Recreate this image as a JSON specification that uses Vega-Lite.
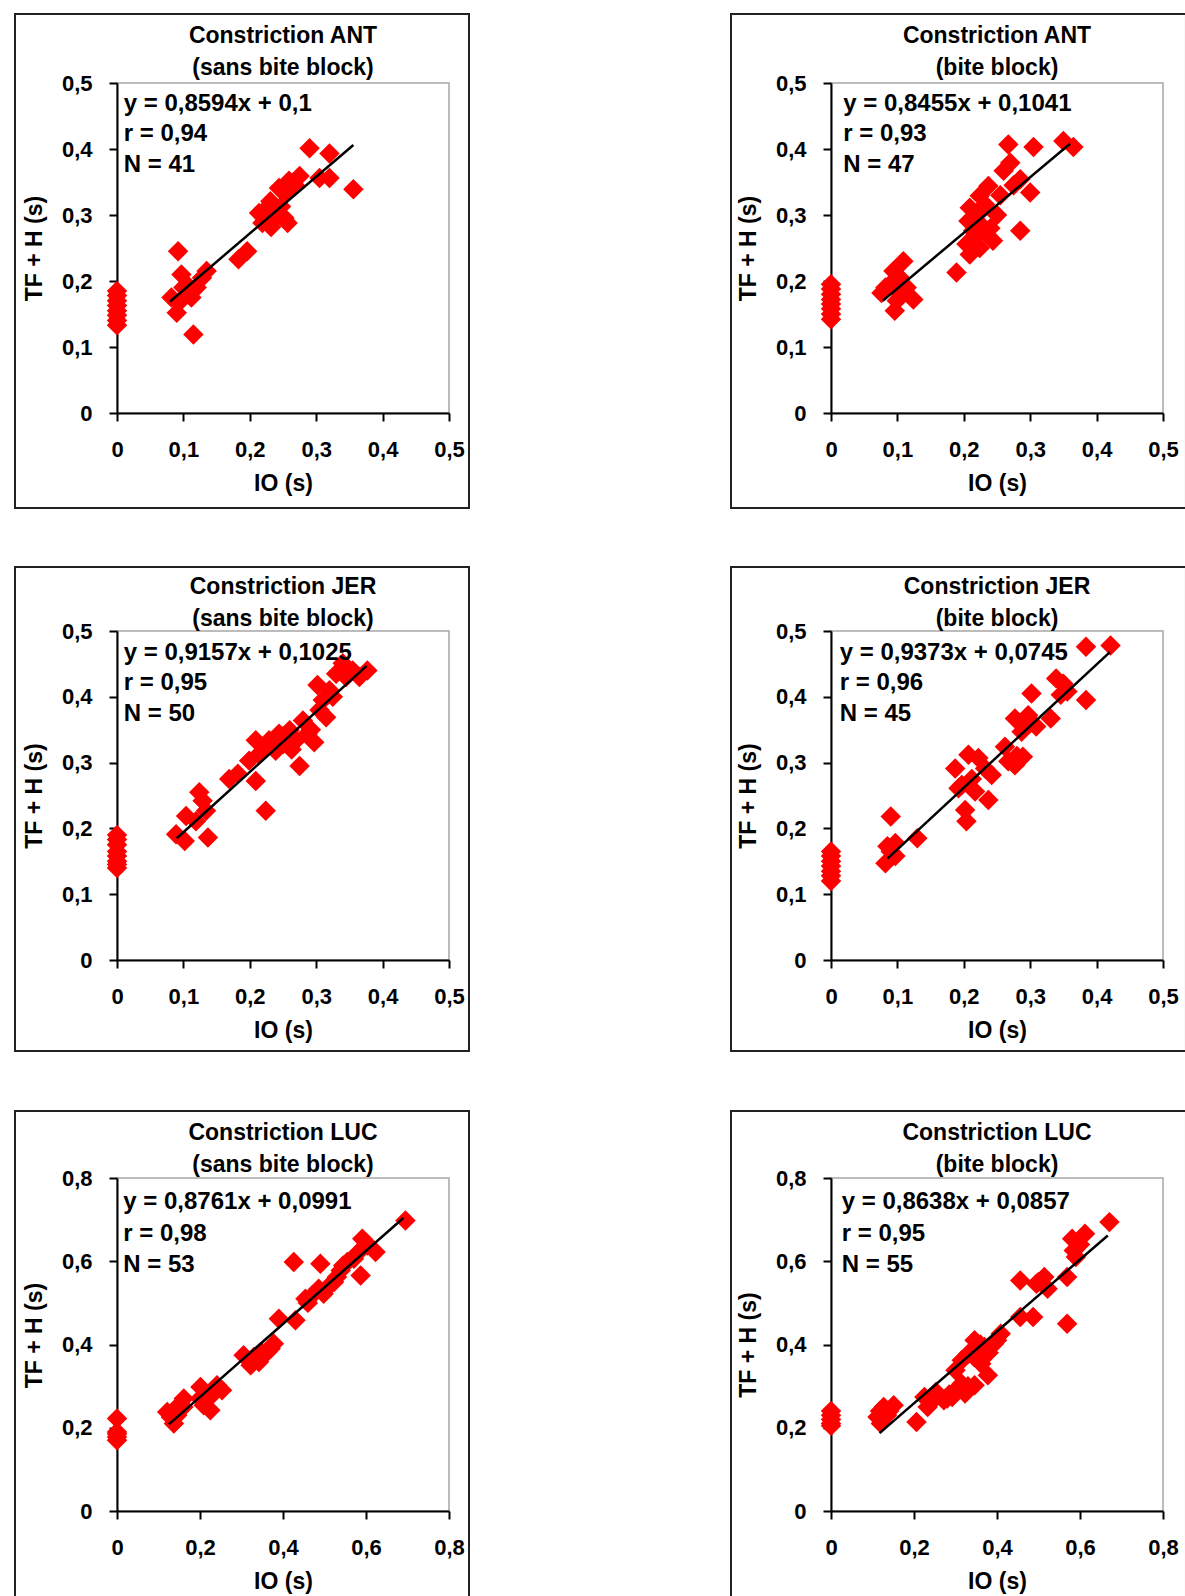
{
  "$schema": "https://vega.github.io/schema/vega-lite/v6.json",
  "padding": {"left": 12, "top": 12, "right": 0, "bottom": 0},
  "background": "white",
  "config": {
    "font": "Liberation Sans",
    "view": {"stroke": "#a6a6a6", "strokeWidth": 1.5},
    "axis": {"grid": false, "domainColor": "#000", "domainWidth": 2, "tickColor": "#000", "tickWidth": 2, "tickSize": 8, "labelFont": "Liberation Sans", "labelFontSize": 22, "labelFontWeight": "bold", "labelColor": "#000", "titleFont": "Liberation Sans", "titleFontSize": 23, "titleFontWeight": "bold", "titleColor": "#000", "labelOverlap": false, "labelFlush": false},
    "axisX": {"labelPadding": 18, "titlePadding": 12},
    "axisY": {"labelPadding": 17, "titlePadding": 15},
    "title": {"font": "Liberation Sans", "fontSize": 23, "fontWeight": "bold", "color": "#000", "anchor": "middle", "frame": "group", "lineHeight": 32}
  },
  "datasets": {
    "ant_sbb": [
      {"io":0,"tf":0.185},{"io":0,"tf":0.178},{"io":0,"tf":0.17},{"io":0,"tf":0.163},{"io":0,"tf":0.155},{"io":0,"tf":0.148},{"io":0,"tf":0.14},{"io":0,"tf":0.133},
      {"io":0.092,"tf":0.245},{"io":0.097,"tf":0.21},{"io":0.082,"tf":0.175},{"io":0.09,"tf":0.152},{"io":0.112,"tf":0.175},{"io":0.115,"tf":0.119},{"io":0.128,"tf":0.205},{"io":0.135,"tf":0.215},{"io":0.105,"tf":0.195},{"io":0.1,"tf":0.19},{"io":0.12,"tf":0.19},{"io":0.183,"tf":0.233},{"io":0.196,"tf":0.245},{"io":0.219,"tf":0.288},{"io":0.214,"tf":0.303},{"io":0.231,"tf":0.321},{"io":0.239,"tf":0.296},{"io":0.252,"tf":0.296},{"io":0.257,"tf":0.288},{"io":0.244,"tf":0.341},{"io":0.259,"tf":0.352},{"io":0.275,"tf":0.359},{"io":0.29,"tf":0.401},{"io":0.305,"tf":0.356},{"io":0.32,"tf":0.356},{"io":0.356,"tf":0.339},{"io":0.247,"tf":0.313},{"io":0.225,"tf":0.31},{"io":0.32,"tf":0.393},{"io":0.268,"tf":0.345},{"io":0.232,"tf":0.282},{"io":0.253,"tf":0.333},{"io":0.094,"tf":0.168}
    ],
    "ant_sbb_fit": [{"io":0.08,"tf":0.169},{"io":0.356,"tf":0.406}],
    "ant_bb": [
      {"io":0,"tf":0.195},{"io":0,"tf":0.188},{"io":0,"tf":0.18},{"io":0,"tf":0.172},{"io":0,"tf":0.165},{"io":0,"tf":0.158},{"io":0,"tf":0.15},{"io":0,"tf":0.142},
      {"io":0.267,"tf":0.407},{"io":0.305,"tf":0.403},{"io":0.35,"tf":0.412},{"io":0.365,"tf":0.403},{"io":0.27,"tf":0.379},{"io":0.26,"tf":0.367},{"io":0.285,"tf":0.354},{"io":0.3,"tf":0.334},{"io":0.237,"tf":0.344},{"io":0.224,"tf":0.329},{"io":0.209,"tf":0.311},{"io":0.207,"tf":0.291},{"io":0.232,"tf":0.316},{"io":0.214,"tf":0.276},{"io":0.234,"tf":0.271},{"io":0.244,"tf":0.261},{"io":0.204,"tf":0.256},{"io":0.224,"tf":0.25},{"io":0.209,"tf":0.24},{"io":0.285,"tf":0.276},{"io":0.189,"tf":0.213},{"io":0.109,"tf":0.23},{"io":0.094,"tf":0.215},{"io":0.076,"tf":0.182},{"io":0.089,"tf":0.195},{"io":0.099,"tf":0.17},{"io":0.096,"tf":0.155},{"io":0.124,"tf":0.172},{"io":0.114,"tf":0.19},{"io":0.104,"tf":0.205},{"io":0.25,"tf":0.3},{"io":0.228,"tf":0.283},{"io":0.215,"tf":0.265},{"io":0.255,"tf":0.33},{"io":0.275,"tf":0.345},{"io":0.082,"tf":0.19},{"io":0.105,"tf":0.18},{"io":0.24,"tf":0.28},{"io":0.22,"tf":0.3}
    ],
    "ant_bb_fit": [{"io":0.078,"tf":0.17},{"io":0.36,"tf":0.408}],
    "jer_sbb": [
      {"io":0,"tf":0.19},{"io":0,"tf":0.183},{"io":0,"tf":0.175},{"io":0,"tf":0.165},{"io":0,"tf":0.158},{"io":0,"tf":0.15},{"io":0,"tf":0.145},{"io":0,"tf":0.14},
      {"io":0.089,"tf":0.191},{"io":0.102,"tf":0.181},{"io":0.104,"tf":0.219},{"io":0.119,"tf":0.211},{"io":0.124,"tf":0.255},{"io":0.129,"tf":0.242},{"io":0.134,"tf":0.227},{"io":0.137,"tf":0.186},{"io":0.169,"tf":0.275},{"io":0.182,"tf":0.283},{"io":0.209,"tf":0.272},{"io":0.224,"tf":0.227},{"io":0.209,"tf":0.334},{"io":0.214,"tf":0.313},{"io":0.224,"tf":0.323},{"io":0.229,"tf":0.334},{"io":0.244,"tf":0.344},{"io":0.25,"tf":0.328},{"io":0.26,"tf":0.349},{"io":0.27,"tf":0.334},{"io":0.275,"tf":0.295},{"io":0.28,"tf":0.364},{"io":0.297,"tf":0.331},{"io":0.287,"tf":0.344},{"io":0.302,"tf":0.418},{"io":0.31,"tf":0.395},{"io":0.315,"tf":0.369},{"io":0.325,"tf":0.4},{"io":0.33,"tf":0.435},{"io":0.34,"tf":0.451},{"io":0.355,"tf":0.44},{"io":0.377,"tf":0.44},{"io":0.365,"tf":0.43},{"io":0.239,"tf":0.318},{"io":0.199,"tf":0.303},{"io":0.25,"tf":0.34},{"io":0.263,"tf":0.32},{"io":0.292,"tf":0.35},{"io":0.305,"tf":0.38},{"io":0.32,"tf":0.41},{"io":0.345,"tf":0.43},{"io":0.235,"tf":0.325}
    ],
    "jer_sbb_fit": [{"io":0.09,"tf":0.185},{"io":0.376,"tf":0.447}],
    "jer_bb": [
      {"io":0,"tf":0.165},{"io":0,"tf":0.158},{"io":0,"tf":0.15},{"io":0,"tf":0.143},{"io":0,"tf":0.135},{"io":0,"tf":0.128},{"io":0,"tf":0.12},
      {"io":0.082,"tf":0.147},{"io":0.085,"tf":0.173},{"io":0.097,"tf":0.158},{"io":0.097,"tf":0.178},{"io":0.09,"tf":0.218},{"io":0.13,"tf":0.185},{"io":0.187,"tf":0.291},{"io":0.192,"tf":0.261},{"io":0.202,"tf":0.228},{"io":0.204,"tf":0.211},{"io":0.207,"tf":0.312},{"io":0.217,"tf":0.256},{"io":0.222,"tf":0.307},{"io":0.232,"tf":0.291},{"io":0.237,"tf":0.243},{"io":0.242,"tf":0.281},{"io":0.262,"tf":0.324},{"io":0.267,"tf":0.302},{"io":0.277,"tf":0.296},{"io":0.277,"tf":0.367},{"io":0.289,"tf":0.309},{"io":0.287,"tf":0.347},{"io":0.297,"tf":0.372},{"io":0.302,"tf":0.405},{"io":0.309,"tf":0.355},{"io":0.331,"tf":0.367},{"io":0.339,"tf":0.428},{"io":0.346,"tf":0.403},{"io":0.356,"tf":0.408},{"io":0.384,"tf":0.476},{"io":0.384,"tf":0.395},{"io":0.421,"tf":0.478},{"io":0.197,"tf":0.266},{"io":0.212,"tf":0.275},{"io":0.28,"tf":0.31},{"io":0.3,"tf":0.36},{"io":0.35,"tf":0.42},{"io":0.09,"tf":0.165}
    ],
    "jer_bb_fit": [{"io":0.085,"tf":0.154},{"io":0.42,"tf":0.468}],
    "luc_sbb": [
      {"io":0,"tf":0.222},{"io":0,"tf":0.19},{"io":0,"tf":0.185},{"io":0,"tf":0.178},{"io":0,"tf":0.17},
      {"io":0.121,"tf":0.238},{"io":0.137,"tf":0.21},{"io":0.145,"tf":0.23},{"io":0.161,"tf":0.27},{"io":0.153,"tf":0.254},{"io":0.201,"tf":0.298},{"io":0.209,"tf":0.254},{"io":0.225,"tf":0.242},{"io":0.241,"tf":0.302},{"io":0.253,"tf":0.29},{"io":0.217,"tf":0.27},{"io":0.305,"tf":0.374},{"io":0.322,"tf":0.35},{"io":0.342,"tf":0.358},{"io":0.362,"tf":0.382},{"io":0.378,"tf":0.402},{"io":0.39,"tf":0.462},{"io":0.426,"tf":0.598},{"io":0.43,"tf":0.458},{"io":0.454,"tf":0.51},{"io":0.47,"tf":0.518},{"io":0.486,"tf":0.534},{"io":0.49,"tf":0.594},{"io":0.498,"tf":0.522},{"io":0.523,"tf":0.55},{"io":0.539,"tf":0.578},{"io":0.555,"tf":0.598},{"io":0.571,"tf":0.606},{"io":0.587,"tf":0.566},{"io":0.591,"tf":0.654},{"io":0.603,"tf":0.638},{"io":0.623,"tf":0.622},{"io":0.695,"tf":0.698},{"io":0.53,"tf":0.562},{"io":0.13,"tf":0.225},{"io":0.16,"tf":0.25},{"io":0.2,"tf":0.27},{"io":0.23,"tf":0.28},{"io":0.33,"tf":0.37},{"io":0.35,"tf":0.38},{"io":0.37,"tf":0.39},{"io":0.46,"tf":0.5},{"io":0.51,"tf":0.54},{"io":0.545,"tf":0.59},{"io":0.58,"tf":0.62},{"io":0.6,"tf":0.645},{"io":0.14,"tf":0.245},{"io":0.32,"tf":0.36}
    ],
    "luc_sbb_fit": [{"io":0.125,"tf":0.208},{"io":0.69,"tf":0.704}],
    "luc_bb": [
      {"io":0,"tf":0.24},{"io":0,"tf":0.23},{"io":0,"tf":0.22},{"io":0,"tf":0.21},{"io":0,"tf":0.205},
      {"io":0.112,"tf":0.226},{"io":0.127,"tf":0.25},{"io":0.12,"tf":0.21},{"io":0.151,"tf":0.254},{"io":0.135,"tf":0.23},{"io":0.206,"tf":0.214},{"io":0.225,"tf":0.274},{"io":0.233,"tf":0.25},{"io":0.253,"tf":0.286},{"io":0.272,"tf":0.266},{"io":0.292,"tf":0.274},{"io":0.315,"tf":0.306},{"io":0.323,"tf":0.282},{"io":0.346,"tf":0.302},{"io":0.315,"tf":0.362},{"io":0.346,"tf":0.41},{"io":0.37,"tf":0.394},{"io":0.362,"tf":0.354},{"io":0.378,"tf":0.326},{"io":0.393,"tf":0.402},{"io":0.409,"tf":0.426},{"io":0.456,"tf":0.554},{"io":0.456,"tf":0.466},{"io":0.487,"tf":0.466},{"io":0.495,"tf":0.546},{"io":0.514,"tf":0.562},{"io":0.522,"tf":0.534},{"io":0.569,"tf":0.562},{"io":0.569,"tf":0.45},{"io":0.581,"tf":0.654},{"io":0.585,"tf":0.626},{"io":0.612,"tf":0.666},{"io":0.671,"tf":0.694},{"io":0.3,"tf":0.338},{"io":0.331,"tf":0.378},{"io":0.118,"tf":0.24},{"io":0.14,"tf":0.24},{"io":0.24,"tf":0.26},{"io":0.28,"tf":0.27},{"io":0.3,"tf":0.29},{"io":0.33,"tf":0.3},{"io":0.35,"tf":0.39},{"io":0.38,"tf":0.38},{"io":0.4,"tf":0.41},{"io":0.5,"tf":0.55},{"io":0.59,"tf":0.61},{"io":0.6,"tf":0.64},{"io":0.36,"tf":0.4},{"io":0.285,"tf":0.28},{"io":0.345,"tf":0.37}
    ],
    "luc_bb_fit": [{"io":0.117,"tf":0.187},{"io":0.667,"tf":0.662}]
  },
  "columns": 2,
  "bounds": "flush",
  "align": "each",
  "spacing": {"row": 218, "column": 382},
  "concat": [
    {
      "width": 332, "height": 330,
      "title": {"text": ["Constriction ANT", "(sans bite block)"], "offset": -67, "lineHeight": 32.5},
      "layer": [
        {"data": {"name": "ant_sbb"}, "mark": {"type": "point", "shape": "diamond", "filled": true, "color": "#ff0000", "opacity": 1, "size": 420},
         "encoding": {
           "x": {"field": "io", "type": "quantitative", "scale": {"domain": [0, 0.5], "nice": false, "zero": false}, "axis": {"title": "IO (s)", "values": [0, 0.1, 0.2, 0.3, 0.4, 0.5], "labelExpr": "replace(format(datum.value, '~g'), '.', ',')"}},
           "y": {"field": "tf", "type": "quantitative", "scale": {"domain": [0, 0.5], "nice": false, "zero": false}, "axis": {"title": "TF + H (s)", "values": [0, 0.1, 0.2, 0.3, 0.4, 0.5], "labelExpr": "replace(format(datum.value, '~g'), '.', ',')"}}}},
        {"data": {"values": [{}]}, "mark": {"type": "rect", "filled": false, "color": "#222", "strokeWidth": 2},
         "encoding": {"x": {"datum": -0.1536, "type": "quantitative"}, "x2": {"datum": 0.5301}, "y": {"datum": 0.6045, "type": "quantitative"}, "y2": {"datum": -0.1439}}},
        {"data": {"name": "ant_sbb_fit"}, "mark": {"type": "line", "color": "#000", "strokeWidth": 2.5},
         "encoding": {"x": {"field": "io", "type": "quantitative"}, "y": {"field": "tf", "type": "quantitative"}}},
        {"data": {"values": [{"label": "y = 0,8594x + 0,1\nr = 0,94\nN = 41"}]}, "mark": {"type": "text", "align": "left", "baseline": "top", "lineBreak": "\n", "lineHeight": 30.5, "fontSize": 24, "fontWeight": "bold", "color": "#000"},
         "encoding": {"x": {"datum": 0.0101, "type": "quantitative"}, "y": {"datum": 0.4865, "type": "quantitative"}, "text": {"field": "label"}}}
      ]
    },
    {
      "width": 332, "height": 330,
      "title": {"text": ["Constriction ANT", "(bite block)"], "offset": -67, "lineHeight": 32.5},
      "layer": [
        {"data": {"name": "ant_bb"}, "mark": {"type": "point", "shape": "diamond", "filled": true, "color": "#ff0000", "opacity": 1, "size": 420},
         "encoding": {
           "x": {"field": "io", "type": "quantitative", "scale": {"domain": [0, 0.5], "nice": false, "zero": false}, "axis": {"title": "IO (s)", "values": [0, 0.1, 0.2, 0.3, 0.4, 0.5], "labelExpr": "replace(format(datum.value, '~g'), '.', ',')"}},
           "y": {"field": "tf", "type": "quantitative", "scale": {"domain": [0, 0.5], "nice": false, "zero": false}, "axis": {"title": "TF + H (s)", "values": [0, 0.1, 0.2, 0.3, 0.4, 0.5], "labelExpr": "replace(format(datum.value, '~g'), '.', ',')"}}}},
        {"data": {"values": [{}]}, "mark": {"type": "rect", "filled": false, "color": "#222", "strokeWidth": 2},
         "encoding": {"x": {"datum": -0.1506, "type": "quantitative"}, "x2": {"datum": 0.5346}, "y": {"datum": 0.6045, "type": "quantitative"}, "y2": {"datum": -0.1439}}},
        {"data": {"name": "ant_bb_fit"}, "mark": {"type": "line", "color": "#000", "strokeWidth": 2.5},
         "encoding": {"x": {"field": "io", "type": "quantitative"}, "y": {"field": "tf", "type": "quantitative"}}},
        {"data": {"values": [{"label": "y = 0,8455x + 0,1041\nr = 0,93\nN = 47"}]}, "mark": {"type": "text", "align": "left", "baseline": "top", "lineBreak": "\n", "lineHeight": 30.5, "fontSize": 24, "fontWeight": "bold", "color": "#000"},
         "encoding": {"x": {"datum": 0.0185, "type": "quantitative"}, "y": {"datum": 0.4865, "type": "quantitative"}, "text": {"field": "label"}}}
      ]
    },
    {
      "width": 332, "height": 329,
      "title": {"text": ["Constriction JER", "(sans bite block)"], "offset": -65, "lineHeight": 31.5},
      "layer": [
        {"data": {"name": "jer_sbb"}, "mark": {"type": "point", "shape": "diamond", "filled": true, "color": "#ff0000", "opacity": 1, "size": 420},
         "encoding": {
           "x": {"field": "io", "type": "quantitative", "scale": {"domain": [0, 0.5], "nice": false, "zero": false}, "axis": {"title": "IO (s)", "values": [0, 0.1, 0.2, 0.3, 0.4, 0.5], "labelExpr": "replace(format(datum.value, '~g'), '.', ',')"}},
           "y": {"field": "tf", "type": "quantitative", "scale": {"domain": [0, 0.5], "nice": false, "zero": false}, "axis": {"title": "TF + H (s)", "values": [0, 0.1, 0.2, 0.3, 0.4, 0.5], "labelExpr": "replace(format(datum.value, '~g'), '.', ',')"}}}},
        {"data": {"values": [{}]}, "mark": {"type": "rect", "filled": false, "color": "#222", "strokeWidth": 2},
         "encoding": {"x": {"datum": -0.1536, "type": "quantitative"}, "x2": {"datum": 0.5301}, "y": {"datum": 0.5973, "type": "quantitative"}, "y2": {"datum": -0.1383}}},
        {"data": {"name": "jer_sbb_fit"}, "mark": {"type": "line", "color": "#000", "strokeWidth": 2.5},
         "encoding": {"x": {"field": "io", "type": "quantitative"}, "y": {"field": "tf", "type": "quantitative"}}},
        {"data": {"values": [{"label": "y = 0,9157x + 0,1025\nr = 0,95\nN = 50"}]}, "mark": {"type": "text", "align": "left", "baseline": "top", "lineBreak": "\n", "lineHeight": 30.5, "fontSize": 24, "fontWeight": "bold", "color": "#000"},
         "encoding": {"x": {"datum": 0.0101, "type": "quantitative"}, "y": {"datum": 0.4855, "type": "quantitative"}, "text": {"field": "label"}}}
      ]
    },
    {
      "width": 332, "height": 329,
      "title": {"text": ["Constriction JER", "(bite block)"], "offset": -65, "lineHeight": 31.5},
      "layer": [
        {"data": {"name": "jer_bb"}, "mark": {"type": "point", "shape": "diamond", "filled": true, "color": "#ff0000", "opacity": 1, "size": 420},
         "encoding": {
           "x": {"field": "io", "type": "quantitative", "scale": {"domain": [0, 0.5], "nice": false, "zero": false}, "axis": {"title": "IO (s)", "values": [0, 0.1, 0.2, 0.3, 0.4, 0.5], "labelExpr": "replace(format(datum.value, '~g'), '.', ',')"}},
           "y": {"field": "tf", "type": "quantitative", "scale": {"domain": [0, 0.5], "nice": false, "zero": false}, "axis": {"title": "TF + H (s)", "values": [0, 0.1, 0.2, 0.3, 0.4, 0.5], "labelExpr": "replace(format(datum.value, '~g'), '.', ',')"}}}},
        {"data": {"values": [{}]}, "mark": {"type": "rect", "filled": false, "color": "#222", "strokeWidth": 2},
         "encoding": {"x": {"datum": -0.1506, "type": "quantitative"}, "x2": {"datum": 0.5346}, "y": {"datum": 0.5973, "type": "quantitative"}, "y2": {"datum": -0.1383}}},
        {"data": {"name": "jer_bb_fit"}, "mark": {"type": "line", "color": "#000", "strokeWidth": 2.5},
         "encoding": {"x": {"field": "io", "type": "quantitative"}, "y": {"field": "tf", "type": "quantitative"}}},
        {"data": {"values": [{"label": "y = 0,9373x + 0,0745\nr = 0,96\nN = 45"}]}, "mark": {"type": "text", "align": "left", "baseline": "top", "lineBreak": "\n", "lineHeight": 30.5, "fontSize": 24, "fontWeight": "bold", "color": "#000"},
         "encoding": {"x": {"datum": 0.0131, "type": "quantitative"}, "y": {"datum": 0.4855, "type": "quantitative"}, "text": {"field": "label"}}}
      ]
    },
    {
      "width": 332, "height": 333,
      "title": {"text": ["Constriction LUC", "(sans bite block)"], "offset": -67, "lineHeight": 31.5},
      "layer": [
        {"data": {"name": "luc_sbb"}, "mark": {"type": "point", "shape": "diamond", "filled": true, "color": "#ff0000", "opacity": 1, "size": 420},
         "encoding": {
           "x": {"field": "io", "type": "quantitative", "scale": {"domain": [0, 0.8], "nice": false, "zero": false}, "axis": {"title": "IO (s)", "values": [0, 0.2, 0.4, 0.6, 0.8], "labelExpr": "replace(format(datum.value, '~g'), '.', ',')"}},
           "y": {"field": "tf", "type": "quantitative", "scale": {"domain": [0, 0.8], "nice": false, "zero": false}, "axis": {"title": "TF + H (s)", "titleY": 157, "values": [0, 0.2, 0.4, 0.6, 0.8], "labelExpr": "replace(format(datum.value, '~g'), '.', ',')"}}}},
        {"data": {"values": [{}]}, "mark": {"type": "rule", "color": "#222", "strokeWidth": 2, "strokeCap": "square"},
         "encoding": {"x": {"datum": -0.2458, "type": "quantitative"}, "y": {"datum": 0.961, "type": "quantitative"}, "y2": {"datum": -0.2042}}},
        {"data": {"values": [{}]}, "mark": {"type": "rule", "color": "#222", "strokeWidth": 2, "strokeCap": "square"},
         "encoding": {"x": {"datum": 0.8482, "type": "quantitative"}, "y": {"datum": 0.961, "type": "quantitative"}, "y2": {"datum": -0.2042}}},
        {"data": {"values": [{}]}, "mark": {"type": "rule", "color": "#222", "strokeWidth": 2, "strokeCap": "square"},
         "encoding": {"x": {"datum": -0.2458, "type": "quantitative"}, "x2": {"datum": 0.8482}, "y": {"datum": 0.961, "type": "quantitative"}}},
        {"data": {"name": "luc_sbb_fit"}, "mark": {"type": "line", "color": "#000", "strokeWidth": 2.5},
         "encoding": {"x": {"field": "io", "type": "quantitative"}, "y": {"field": "tf", "type": "quantitative"}}},
        {"data": {"values": [{"label": "y = 0,8761x + 0,0991\nr = 0,98\nN = 53"}]}, "mark": {"type": "text", "align": "left", "baseline": "top", "lineBreak": "\n", "lineHeight": 31.5, "fontSize": 24, "fontWeight": "bold", "color": "#000"},
         "encoding": {"x": {"datum": 0.0152, "type": "quantitative"}, "y": {"datum": 0.77, "type": "quantitative"}, "text": {"field": "label"}}}
      ]
    },
    {
      "width": 332, "height": 333,
      "title": {"text": ["Constriction LUC", "(bite block)"], "offset": -67, "lineHeight": 31.5},
      "layer": [
        {"data": {"name": "luc_bb"}, "mark": {"type": "point", "shape": "diamond", "filled": true, "color": "#ff0000", "opacity": 1, "size": 420},
         "encoding": {
           "x": {"field": "io", "type": "quantitative", "scale": {"domain": [0, 0.8], "nice": false, "zero": false}, "axis": {"title": "IO (s)", "values": [0, 0.2, 0.4, 0.6, 0.8], "labelExpr": "replace(format(datum.value, '~g'), '.', ',')"}},
           "y": {"field": "tf", "type": "quantitative", "scale": {"domain": [0, 0.8], "nice": false, "zero": false}, "axis": {"title": "TF + H (s)", "values": [0, 0.2, 0.4, 0.6, 0.8], "labelExpr": "replace(format(datum.value, '~g'), '.', ',')"}}}},
        {"data": {"values": [{}]}, "mark": {"type": "rule", "color": "#222", "strokeWidth": 2, "strokeCap": "square"},
         "encoding": {"x": {"datum": -0.241, "type": "quantitative"}, "y": {"datum": 0.961, "type": "quantitative"}, "y2": {"datum": -0.2042}}},
        {"data": {"values": [{}]}, "mark": {"type": "rule", "color": "#222", "strokeWidth": 2, "strokeCap": "square"},
         "encoding": {"x": {"datum": 0.8554, "type": "quantitative"}, "y": {"datum": 0.961, "type": "quantitative"}, "y2": {"datum": -0.2042}}},
        {"data": {"values": [{}]}, "mark": {"type": "rule", "color": "#222", "strokeWidth": 2, "strokeCap": "square"},
         "encoding": {"x": {"datum": -0.241, "type": "quantitative"}, "x2": {"datum": 0.8554}, "y": {"datum": 0.961, "type": "quantitative"}}},
        {"data": {"name": "luc_bb_fit"}, "mark": {"type": "line", "color": "#000", "strokeWidth": 2.5},
         "encoding": {"x": {"field": "io", "type": "quantitative"}, "y": {"field": "tf", "type": "quantitative"}}},
        {"data": {"values": [{"label": "y = 0,8638x + 0,0857\nr = 0,95\nN = 55"}]}, "mark": {"type": "text", "align": "left", "baseline": "top", "lineBreak": "\n", "lineHeight": 31.5, "fontSize": 24, "fontWeight": "bold", "color": "#000"},
         "encoding": {"x": {"datum": 0.0258, "type": "quantitative"}, "y": {"datum": 0.77, "type": "quantitative"}, "text": {"field": "label"}}}
      ]
    }
  ]
}
